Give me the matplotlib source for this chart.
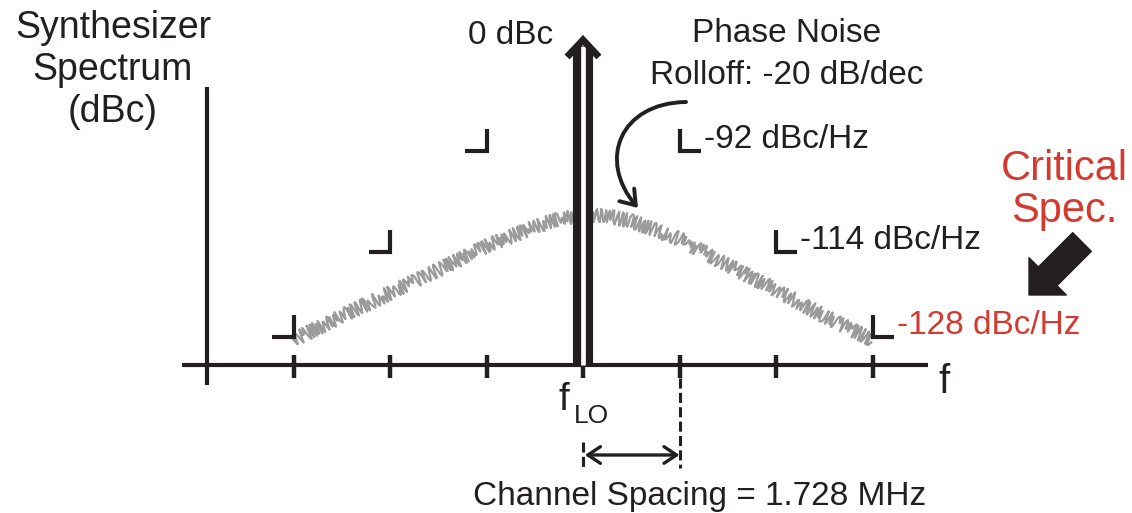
import matplotlib
matplotlib.use("Agg")
import matplotlib.pyplot as plt
from matplotlib.path import Path
from matplotlib.patches import FancyArrowPatch

plt.rcParams["font.family"] = ["Liberation Sans", "DejaVu Sans"]

# channel offsets from the LO (in channel spacings) where the f-axis ticks sit
channels = [-3, -2, -1, 0, 1, 2, 3]
# phase-noise mask corners: offset (channels), spec (dBc/Hz), drawn height
mask_offset = [1, 2, 3]
mask_dbc = [-92, -114, -128]
mask_level = [21.4, 11.3, 2.85]
# phase-noise skirt envelope (drawn height units)
noise_offset = [-3, -2.5, -2, -1.5, -1, -0.5, -0.25, 0, 0.25, 0.5, 1, 1.5, 2, 2.5, 3]
noise_level = [2.5, 4.9, 7.2, 9.5, 11.9, 13.8, 14.6, 15.0, 14.9, 14.4, 12.6, 10.0, 7.5, 4.9, 2.5]
carrier_dbc = 0
carrier_level = 33.0
spacing_mhz = 1.728

# canvas: 1 channel = 96.5 px, 1 height unit = 10 px, origin at the LO on the axis
W, H = 1132, 513
X0, XPX, Y0, YPX = 583, 96.5, 365, 10.0


def P(xp, yp): return ((xp - X0) / XPX, (Y0 - yp) / YPX)


K = "#231f20"; RED = "#d43a2f"; GREY = "#9b9b9b"
FS = 24

fig = plt.figure(figsize=(W / 100, H / 100), dpi=100)
ax = fig.add_axes([0, 0, 1, 1])
ax.set_xlim(-X0 / XPX, (W - X0) / XPX); ax.set_ylim((Y0 - H) / YPX, Y0 / YPX); ax.axis("off")

# axes of the sketch
ax.plot([channels[0] - 1.16, channels[-1] + 0.58], [0, 0], color=K, lw=3, solid_capstyle="butt")
ax.plot([channels[0] - 0.9] * 2, [-2.0, 27.8], color=K, lw=3, solid_capstyle="butt")
for c in channels:
    ax.plot([c, c], [1.0, -1.3], color=K, lw=3.2, solid_capstyle="butt")

# noise skirt (wiggle is a render style on the envelope)
ln, = ax.plot(noise_offset, noise_level, color=GREY, lw=1.6, zorder=2)
ln.set_sketch_params(scale=7, length=5, randomness=3)

# mask corners + labels
ARM, ARMY = 0.22, 2.2
for k, lev, d in zip(mask_offset, mask_level, mask_dbc):
    for s in (-1, 1):
        x = s * k
        ax.plot([x + s * ARM, x, x], [lev, lev, lev + ARMY], color=K, lw=3,
                solid_joinstyle="miter", solid_capstyle="butt", zorder=3)
    ax.text(k + ARM + 0.03, lev + 0.3, f"{d} dBc/Hz", ha="left", va="baseline", fontsize=FS,
            color=RED if d == mask_dbc[-1] else K)

# carrier: double-line arrow
top = carrier_level - 1.1
ax.plot([0, 0], [0, top], color=K, lw=14.5, solid_capstyle="butt", zorder=4)
ax.plot([0, 0], [0, top], color="white", lw=3.4, solid_capstyle="butt", zorder=5)
tip = carrier_level - 0.5; HW, HH = 0.165, 1.7
ax.plot([-HW, 0, HW], [tip - HH, tip, tip - HH], color=K, lw=5, solid_joinstyle="miter",
        solid_capstyle="butt", zorder=6)
ax.text(*P(511, 44), f"{carrier_dbc} dBc", ha="center", va="baseline", fontsize=FS, color=K)

# channel spacing marker
ax.plot([1, 1], [-1.3, -10.3], color=K, lw=2.2, ls=(0, (3.3, 1.4)))
ax.plot([0, 0], [-7.7, -10.3], color=K, lw=2.2, ls=(0, (3.3, 1.4)))
ax.annotate("", xy=(1, -9.0), xytext=(0.02, -9.0),
            arrowprops=dict(arrowstyle="<->,head_length=0.45,head_width=0.3", lw=2.4, color=K,
                            shrinkA=0, shrinkB=0, mutation_scale=20))
ax.text(*P(700, 505), f"Channel Spacing = {spacing_mhz} MHz", ha="center", va="baseline", fontsize=FS, color=K)

# axis labels
ax.text(*P(113, 10), "Synthesizer\nSpectrum\n(dBc)", ha="center", va="top", fontsize=27,
        linespacing=1.22, color=K)
ax.text(*P(938, 393), "f", ha="left", va="baseline", fontsize=29, color=K)
ax.text(*P(558, 410), "f", ha="left", va="baseline", fontsize=28, color=K)
ax.text(*P(574, 423), "LO", ha="left", va="baseline", fontsize=19, color=K)

# rolloff note with curved arrow
ax.text(*P(787, 42), "Phase Noise", ha="center", va="baseline", fontsize=FS, color=K)
ax.text(*P(787, 84), "Rolloff: -20 dB/dec", ha="center", va="baseline", fontsize=FS, color=K)
crv = Path([P(686, 102), P(620, 103), P(597, 160), P(638, 208)],
           [Path.MOVETO, Path.CURVE4, Path.CURVE4, Path.CURVE4])
ax.add_patch(FancyArrowPatch(path=crv, arrowstyle="->,head_length=0.5,head_width=0.35",
                             mutation_scale=20, lw=2.8, color=K, zorder=6))

# critical spec callout
ax.text(*P(1064, 180), "Critical", ha="center", va="baseline", fontsize=30, color=RED)
ax.text(*P(1064, 222), "Spec.", ha="center", va="baseline", fontsize=30, color=RED)
ax.annotate("", xy=P(1029, 295), xytext=P(1082, 242),
            arrowprops=dict(arrowstyle="simple,head_length=1.0,head_width=2.0,tail_width=1.0",
                            mutation_scale=19, color=K, shrinkA=0, shrinkB=0))

fig.savefig("out.png", dpi=100, facecolor="white")
